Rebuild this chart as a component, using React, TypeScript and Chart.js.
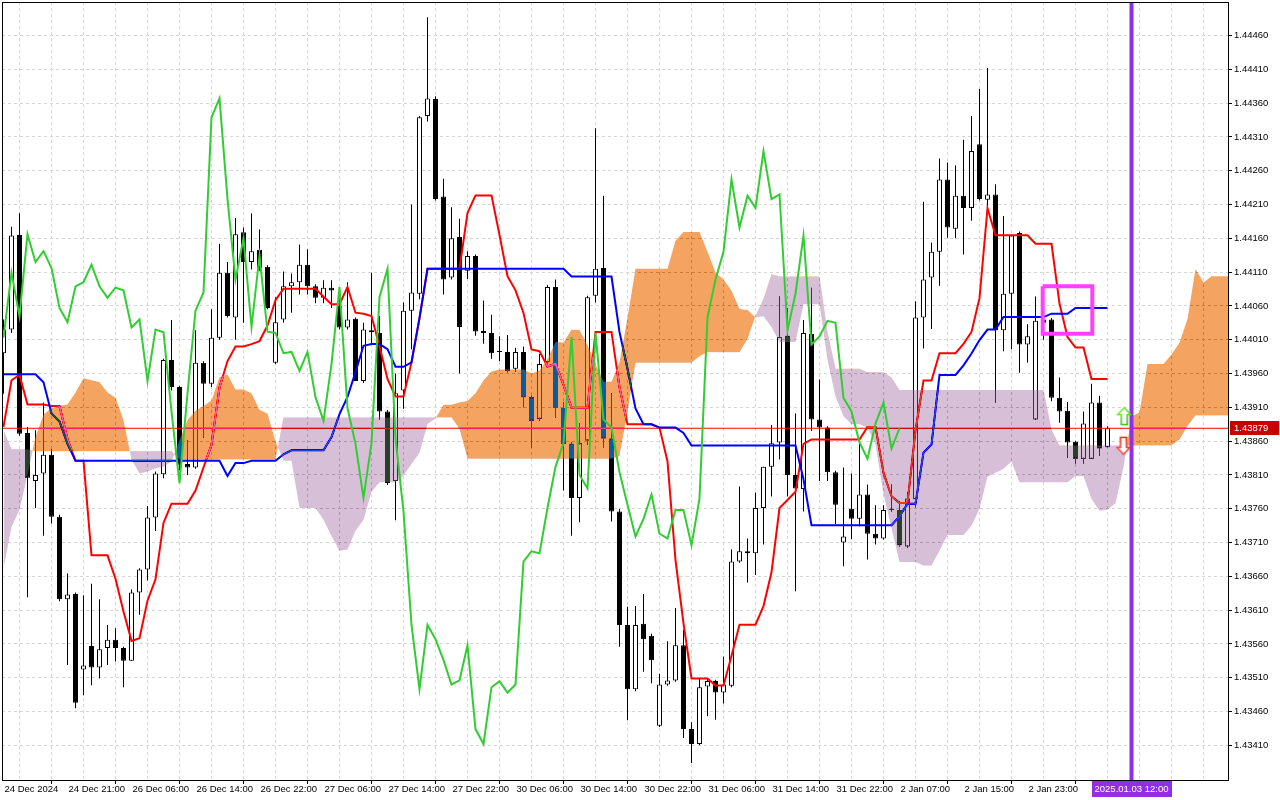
import React, { useEffect, useRef } from "react";
import { Chart, registerables } from "chart.js";

Chart.register(...registerables);

// ---------- time axis ----------
const timeLabels = [
  "24 Dec 2024", "24 Dec 21:00", "26 Dec 06:00", "26 Dec 14:00", "26 Dec 22:00",
  "27 Dec 06:00", "27 Dec 14:00", "27 Dec 22:00", "30 Dec 06:00", "30 Dec 14:00",
  "30 Dec 22:00", "31 Dec 06:00", "31 Dec 14:00", "31 Dec 22:00", "2 Jan 07:00",
  "2 Jan 15:00", "2 Jan 23:00", "3 Jan 07:00",
];
const BARS_PER_LABEL = 8;
const GRID_STEP = 4;
const cursorBar = 141;
const cursorLabel = "2025.01.03 12:00";
const CHIKOU_SHIFT = 26;

// ---------- H1 candles (bar index 0..138) ----------
const opens = [
  1.43990, 1.44025, 1.44165, 1.43872, 1.43801, 1.43812, 1.43840, 1.43748, 1.43626, 1.43634,
  1.43522, 1.43557, 1.43525, 1.43554, 1.43566, 1.43554, 1.43535, 1.43636, 1.43670, 1.43747,
  1.43811, 1.43980, 1.43940, 1.43826, 1.43821, 1.43976, 1.43945, 1.44013, 1.44109, 1.44043,
  1.44169, 1.44125, 1.44143, 1.44118, 1.43976, 1.44040, 1.44089, 1.44095, 1.44121, 1.44089,
  1.44072, 1.44087, 1.44060, 1.44028, 1.44041, 1.43949, 1.44024, 1.44020, 1.43904, 1.43801,
  1.43935, 1.44053, 1.44078, 1.44341, 1.44366, 1.44222, 1.44102, 1.44162, 1.44112, 1.44134,
  1.44023, 1.44020, 1.43993, 1.43992, 1.43967, 1.43992, 1.43925, 1.43893, 1.43977, 1.44088,
  1.43909, 1.43856, 1.43776, 1.43861, 1.44075, 1.44116, 1.43864, 1.43756, 1.43588, 1.43493,
  1.43590, 1.43572, 1.43439, 1.43500, 1.43506, 1.43558, 1.43434, 1.43412, 1.43497, 1.43505,
  1.43488, 1.43498, 1.43682, 1.43697, 1.43694, 1.43761, 1.43822, 1.43858, 1.44016, 1.43810,
  1.43789, 1.44019, 1.43892, 1.43880, 1.43814, 1.43710, 1.43760, 1.43745, 1.43781, 1.43723,
  1.43716, 1.43760, 1.43758, 1.43704, 1.43774, 1.44043, 1.44102, 1.44140, 1.44247, 1.44174,
  1.44223, 1.44205, 1.44299, 1.44217, 1.44225, 1.44024, 1.44078, 1.44168, 1.44003, 1.43892,
  1.44040, 1.44040, 1.43924, 1.43905, 1.43859, 1.43834, 1.43834, 1.43917, 1.43851,
];
const highs = [
  1.44040, 1.44177, 1.44197, 1.43881, 1.43876, 1.43917, 1.43848, 1.43751, 1.43664, 1.43636,
  1.43632, 1.43649, 1.43626, 1.43588, 1.43583, 1.43556, 1.43641, 1.43672, 1.43764, 1.43815,
  1.43982, 1.44039, 1.43942, 1.43861, 1.44024, 1.43978, 1.44055, 1.44152, 1.44125, 1.44190,
  1.44176, 1.44197, 1.44173, 1.44120, 1.44073, 1.44111, 1.44108, 1.44151, 1.44144, 1.44092,
  1.44098, 1.44098, 1.44087, 1.44095, 1.44043, 1.44035, 1.44109, 1.44045, 1.43906, 1.43960,
  1.44065, 1.44210, 1.44341, 1.44487, 1.44370, 1.44248, 1.44206, 1.44189, 1.44141, 1.44136,
  1.44068, 1.44047, 1.44015, 1.44017, 1.43998, 1.44000, 1.43927, 1.43989, 1.44091, 1.44099,
  1.43918, 1.43858, 1.43886, 1.44075, 1.44323, 1.44223, 1.43931, 1.43760, 1.43615, 1.43616,
  1.43634, 1.43575, 1.43516, 1.43564, 1.43613, 1.43581, 1.43444, 1.43509, 1.43509, 1.43507,
  1.43541, 1.43700, 1.43793, 1.43716, 1.43784, 1.43822, 1.43884, 1.44074, 1.44057, 1.43901,
  1.44039, 1.44087, 1.43951, 1.43882, 1.43816, 1.43821, 1.43812, 1.43862, 1.43796, 1.43765,
  1.43765, 1.43796, 1.43771, 1.43784, 1.44067, 1.44214, 1.44154, 1.44278, 1.44272, 1.44268,
  1.44306, 1.44341, 1.44381, 1.44412, 1.44240, 1.44193, 1.44164, 1.44170, 1.44033, 1.44074,
  1.44077, 1.44042, 1.43954, 1.43918, 1.43860, 1.43904, 1.43945, 1.43927, 1.43882,
];
const lows = [
  1.43930, 1.44020, 1.43868, 1.43629, 1.43761, 1.43720, 1.43738, 1.43623, 1.43529, 1.43465,
  1.43484, 1.43499, 1.43509, 1.43529, 1.43534, 1.43496, 1.43535, 1.43603, 1.43654, 1.43727,
  1.43805, 1.43935, 1.43817, 1.43810, 1.43819, 1.43865, 1.43940, 1.44010, 1.44043, 1.44010,
  1.44035, 1.44114, 1.44112, 1.44055, 1.43974, 1.44035, 1.44050, 1.44077, 1.44077, 1.44064,
  1.44064, 1.44057, 1.44025, 1.44025, 1.43949, 1.43946, 1.44005, 1.43892, 1.43795, 1.43743,
  1.43908, 1.43996, 1.44070, 1.44333, 1.44216, 1.44077, 1.44099, 1.43960, 1.44100, 1.44016,
  1.44004, 1.43982, 1.43978, 1.43962, 1.43963, 1.43910, 1.43850, 1.43890, 1.43971, 1.43895,
  1.43787, 1.43720, 1.43740, 1.43855, 1.44065, 1.43850, 1.43741, 1.43556, 1.43447, 1.43490,
  1.43519, 1.43502, 1.43437, 1.43498, 1.43504, 1.43421, 1.43384, 1.43410, 1.43453, 1.43448,
  1.43472, 1.43496, 1.43680, 1.43651, 1.43662, 1.43707, 1.43778, 1.43833, 1.43778, 1.43638,
  1.43756, 1.43875, 1.43801, 1.43801, 1.43737, 1.43675, 1.43715, 1.43734, 1.43685, 1.43707,
  1.43714, 1.43756, 1.43704, 1.43702, 1.43762, 1.43997, 1.44026, 1.44090, 1.44161, 1.44160,
  1.44136, 1.44186, 1.44216, 1.44203, 1.43917, 1.43993, 1.43996, 1.43961, 1.43976, 1.43892,
  1.44010, 1.43919, 1.43887, 1.43835, 1.43827, 1.43827, 1.43834, 1.43838, 1.43851,
];
const closes = [
  1.44025, 1.44164, 1.43871, 1.43806, 1.43810, 1.43840, 1.43748, 1.43626, 1.43633, 1.43473,
  1.43528, 1.43525, 1.43552, 1.43566, 1.43554, 1.43535, 1.43636, 1.43670, 1.43747, 1.43812,
  1.43980, 1.43940, 1.43825, 1.43821, 1.43976, 1.43945, 1.44013, 1.44109, 1.44045, 1.44166,
  1.44125, 1.44141, 1.44116, 1.44057, 1.44036, 1.44089, 1.44095, 1.44121, 1.44089, 1.44072,
  1.44087, 1.44083, 1.44028, 1.44040, 1.43949, 1.44025, 1.44021, 1.43904, 1.43798, 1.43931,
  1.44053, 1.44080, 1.44339, 1.44367, 1.44218, 1.44099, 1.44160, 1.44029, 1.44134, 1.44022,
  1.44020, 1.43990, 1.43992, 1.43964, 1.43992, 1.43925, 1.43890, 1.43974, 1.44088, 1.43909,
  1.43856, 1.43776, 1.43857, 1.44073, 1.44115, 1.43864, 1.43756, 1.43588, 1.43493, 1.43588,
  1.43567, 1.43536, 1.43500, 1.43506, 1.43558, 1.43434, 1.43412, 1.43496, 1.43505, 1.43488,
  1.43500, 1.43682, 1.43697, 1.43694, 1.43761, 1.43822, 1.43857, 1.44014, 1.43810, 1.43790,
  1.44020, 1.43892, 1.43880, 1.43814, 1.43766, 1.43719, 1.43745, 1.43781, 1.43723, 1.43716,
  1.43758, 1.43758, 1.43706, 1.43775, 1.44043, 1.44099, 1.44140, 1.44247, 1.44176, 1.44223,
  1.44205, 1.44289, 1.44218, 1.44225, 1.44024, 1.44078, 1.44164, 1.44003, 1.44015, 1.44038,
  1.44035, 1.43924, 1.43904, 1.43858, 1.43834, 1.43886, 1.43917, 1.43849, 1.43879,
];

// ---------- Ichimoku lines ----------
const tenkan = [
  1.43881, 1.43950, 1.43958, 1.43914, 1.43914, 1.43914, 1.43912, 1.43912, 1.43863, 1.43831,
  1.43831, 1.43691, 1.43691, 1.43691, 1.436565, 1.43608, 1.435645, 1.435685, 1.43624, 1.436555,
  1.43739, 1.437675, 1.437675, 1.437675, 1.43787, 1.43821, 1.438545, 1.439395, 1.439785, 1.44000,
  1.44000, 1.440035, 1.44008, 1.44031, 1.440685, 1.440855, 1.440855, 1.440855, 1.440855, 1.440855,
  1.440735, 1.440625, 1.440625, 1.44088, 1.44050, 1.440485, 1.44045, 1.440005, 1.43952, 1.43926,
  1.43926, 1.439765, 1.44042, 1.44115, 1.44115, 1.44115, 1.44115, 1.44115, 1.441975, 1.442235,
  1.442235, 1.442235, 1.44165, 1.44104, 1.44083, 1.440495, 1.439955, 1.43993, 1.439705, 1.439745,
  1.43943, 1.439095, 1.439095, 1.439095, 1.440215, 1.440215, 1.440215, 1.439395, 1.43885, 1.43885,
  1.43885, 1.43885, 1.43880, 1.43830, 1.43684, 1.435905, 1.43509, 1.43509, 1.43509, 1.434985,
  1.434985, 1.43542, 1.435885, 1.435885, 1.435885, 1.43616, 1.43666, 1.43761, 1.43773, 1.43785,
  1.43856, 1.438625, 1.438625, 1.438625, 1.438625, 1.438625, 1.438625, 1.438625, 1.43881, 1.43881,
  1.43813, 1.437785, 1.437685, 1.437685, 1.43876, 1.439495, 1.439495, 1.43990, 1.43990, 1.43990,
  1.44004, 1.440215, 1.440715, 1.442045, 1.441645, 1.441645, 1.441645, 1.441645, 1.441645, 1.44152,
  1.44152, 1.44152, 1.440635, 1.44014, 1.439985, 1.439985, 1.43952, 1.43952, 1.43952,
];
const kijun = [
  1.43959, 1.43959, 1.43959, 1.43959, 1.43959, 1.43947, 1.43901, 1.43889, 1.43856, 1.43831,
  1.43831, 1.43831, 1.43831, 1.43831, 1.43831, 1.43831, 1.43831, 1.43831, 1.43831, 1.43831,
  1.43831, 1.43831, 1.43831, 1.43831, 1.43831, 1.43831, 1.43831, 1.43831, 1.438085, 1.438275,
  1.438275, 1.43831, 1.43831, 1.43831, 1.43831, 1.438405, 1.438465, 1.438465, 1.438465, 1.438465,
  1.438465, 1.43866, 1.43900, 1.439255, 1.43962, 1.44001, 1.440035, 1.440035, 1.43996, 1.43970,
  1.43970, 1.439765, 1.44042, 1.44115, 1.44115, 1.44115, 1.44115, 1.44115, 1.44115, 1.44115,
  1.44115, 1.44115, 1.44115, 1.44115, 1.44115, 1.44115, 1.44115, 1.44115, 1.44115, 1.44115,
  1.44115, 1.441035, 1.441035, 1.441035, 1.441035, 1.441035, 1.441035, 1.440215, 1.43967, 1.439085,
  1.43885, 1.43885, 1.43880, 1.43880, 1.43880, 1.43872, 1.438535, 1.438535, 1.438535, 1.438535,
  1.438535, 1.438535, 1.438535, 1.438535, 1.438535, 1.438535, 1.438535, 1.438535, 1.438535, 1.438535,
  1.438035, 1.437355, 1.437355, 1.437355, 1.437355, 1.437355, 1.437355, 1.437355, 1.437355, 1.437355,
  1.437355, 1.437355, 1.437485, 1.437675, 1.437675, 1.43843, 1.43855, 1.43958, 1.43958, 1.43958,
  1.43972, 1.439895, 1.440095, 1.44025, 1.44025, 1.440435, 1.440435, 1.440435, 1.440435, 1.440435,
  1.440435, 1.440485, 1.440485, 1.440485, 1.44057, 1.44057, 1.44057, 1.44057, 1.44057,
];
// Senkou spans (bar index 0..164, 26 bars projected ahead)
const spanA = [
  1.43672, 1.43733, 1.43759, 1.43810, 1.43866, 1.43899, 1.43909, 1.43912, 1.43914, 1.43932,
  1.43953, 1.43950, 1.43947, 1.43932, 1.43924, 1.43891, 1.43833, 1.43812, 1.43815, 1.43820,
  1.43822, 1.43830, 1.43861, 1.43891, 1.43905, 1.43912, 1.43920, 1.439545, 1.439585, 1.439365,
  1.439365, 1.439305, 1.439065, 1.439005, 1.438595, 1.43831, 1.43831, 1.43761, 1.43761, 1.43761,
  1.437438, 1.437195, 1.436978, 1.436998, 1.437275, 1.437433, 1.43785, 1.437993, 1.437993, 1.437993,
  1.43809, 1.43826, 1.438428, 1.438853, 1.438935, 1.439138, 1.439138, 1.439173, 1.439195, 1.43931,
  1.439498, 1.43963, 1.43966, 1.43966, 1.43966, 1.43966, 1.43960, 1.439643, 1.439813, 1.440068,
  1.44006, 1.440248, 1.440243, 1.44002, 1.43974, 1.43948, 1.43948, 1.439765, 1.44042, 1.44115,
  1.44115, 1.44115, 1.44115, 1.44115, 1.441563, 1.441693, 1.441693, 1.441693, 1.44140, 1.441095,
  1.44099, 1.440823, 1.440553, 1.44054, 1.440428, 1.440448, 1.44029, 1.440065, 1.440065, 1.440065,
  1.440625, 1.440625, 1.440625, 1.439805, 1.43926, 1.438968, 1.43885, 1.43885, 1.43880, 1.43855,
  1.43782, 1.437313, 1.436813, 1.436813, 1.436813, 1.43676, 1.43676, 1.436978, 1.43721, 1.43721,
  1.43721, 1.437348, 1.437598, 1.438073, 1.438133, 1.438193, 1.438298, 1.43799, 1.43799, 1.43799,
  1.43799, 1.43799, 1.43799, 1.43799, 1.438083, 1.438083, 1.437743, 1.43757, 1.437585, 1.43768,
  1.438218, 1.438963, 1.439023, 1.43974, 1.43974, 1.43974, 1.43988, 1.440055, 1.440405, 1.441148,
  1.440948, 1.44104, 1.44104, 1.44104, 1.44104, 1.440978, 1.440978, 1.441003, 1.44056, 1.440313,
  1.440278, 1.440278, 1.440045, 1.440045, 1.440045,
];
const spanB = [
  1.43876, 1.43848, 1.43848, 1.43848, 1.43845, 1.43845, 1.43845, 1.43845, 1.43845, 1.43845,
  1.43845, 1.43845, 1.43845, 1.43845, 1.43845, 1.43845, 1.43845, 1.43845, 1.43845, 1.43845,
  1.43845, 1.43845, 1.43833, 1.43833, 1.43833, 1.43833, 1.43833, 1.43833, 1.43833, 1.43833,
  1.43833, 1.43833, 1.43833, 1.43833, 1.43833, 1.43895, 1.43895, 1.43895, 1.43895, 1.43895,
  1.43895, 1.43895, 1.43895, 1.43895, 1.43895, 1.43895, 1.43895, 1.43895, 1.43895, 1.43895,
  1.43895, 1.43895, 1.43895, 1.43895, 1.43895, 1.43895, 1.43895, 1.43878, 1.43834, 1.43834,
  1.43834, 1.43834, 1.43834, 1.43834, 1.43834, 1.43834, 1.43834, 1.43834, 1.43834, 1.43834,
  1.43834, 1.43834, 1.43834, 1.43834, 1.43834, 1.43834, 1.43834, 1.438375, 1.43903, 1.43976,
  1.43976, 1.43976, 1.43976, 1.43976, 1.43976, 1.43976, 1.43976, 1.439855, 1.439915, 1.439915,
  1.439915, 1.439915, 1.439915, 1.44011, 1.44045, 1.440705, 1.44107, 1.441035, 1.441035, 1.441035,
  1.441035, 1.441035, 1.441035, 1.440215, 1.43967, 1.43967, 1.43967, 1.43967, 1.43962, 1.43962,
  1.43962, 1.43954, 1.439355, 1.439355, 1.439355, 1.439355, 1.439355, 1.439355, 1.439355, 1.439355,
  1.439355, 1.439355, 1.439355, 1.439355, 1.439355, 1.439355, 1.439355, 1.439355, 1.439355, 1.439355,
  1.439355, 1.43877, 1.438535, 1.438535, 1.438535, 1.438535, 1.438535, 1.438535, 1.438535, 1.438535,
  1.438535, 1.438535, 1.438535, 1.438535, 1.438535, 1.438535, 1.438535, 1.438625, 1.438825, 1.43898,
  1.43898, 1.43898, 1.43898, 1.43898, 1.43898, 1.43898, 1.43898, 1.43898, 1.43898, 1.43898,
  1.43898, 1.43898, 1.43898, 1.43898, 1.43911,
];

// ---------- price axis ----------
const yTickValues = [
  1.43410, 1.43460, 1.43510, 1.43560, 1.43610, 1.43660, 1.43710, 1.43760, 1.43810, 1.43860, 1.43910,
  1.43960, 1.44010, 1.44060, 1.44110, 1.44160, 1.44210, 1.44260, 1.44310, 1.44360, 1.44410, 1.44460,
];

// ---------- chart objects ----------
const signalUp = { bar: 140.1, price: 1.43897 };
const signalDown = { bar: 140.0, price: 1.43853 };
const markBox = { bar0: 129.9, bar1: 136.1, priceLow: 1.44019, priceHigh: 1.44089 };

// view window
const X_MIN = -0.1875;
const X_MAX = 153.0625;
const Y_MIN = 1.433587;
const Y_MAX = 1.445096;

const FONT = '"Liberation Sans", Arial, sans-serif';
const FONT_SIZE = 9.5;
const GRID_COLOR = "#d6d6d6";
const ORANGE_INV = "#0B5B9F"; // SandyBrown drawn with 'difference'
const THISTLE_INV = "#274027"; // Thistle drawn with 'difference'

const IDX_KIJUN = 5;
const IDX_SPANA = 6;

function makeArrow(up: boolean): HTMLCanvasElement {
  const c = document.createElement("canvas");
  c.width = 16;
  c.height = 20;
  const g = c.getContext("2d")!;
  g.save();
  if (!up) {
    g.translate(0, 20);
    g.scale(1, -1);
  }
  g.beginPath();
  g.moveTo(8, 1.5);
  g.lineTo(14.5, 8.5);
  g.lineTo(11, 8.5);
  g.lineTo(11, 18.5);
  g.lineTo(5, 18.5);
  g.lineTo(5, 8.5);
  g.lineTo(1.5, 8.5);
  g.closePath();
  g.fillStyle = "#ffffff";
  g.fill();
  const grad = g.createLinearGradient(0, 0, 16, 20);
  if (up) {
    grad.addColorStop(0, "#99ff33");
    grad.addColorStop(1, "#1faa1f");
  } else {
    grad.addColorStop(0, "#ff6a6a");
    grad.addColorStop(1, "#ff0000");
  }
  g.lineWidth = 1.6;
  g.strokeStyle = grad;
  g.stroke();
  g.restore();
  return c;
}

export default function App() {
  const ref = useRef<HTMLCanvasElement>(null);

  useEffect(() => {
    document.body.style.margin = "0";
    const canvas = ref.current!;
    const last = closes[closes.length - 1];

    const bgPlugin = {
      id: "bgWhite",
      beforeDraw(chart: any) {
        const ctx = chart.ctx;
        ctx.save();
        ctx.fillStyle = "#ffffff";
        ctx.fillRect(0, 0, chart.width, chart.height);
        ctx.restore();
      },
    };

    const blendPlugin = {
      id: "cloudBlend",
      afterDatasetDraw(chart: any, args: any) {
        if (args.index === IDX_KIJUN) chart.ctx.globalCompositeOperation = "difference";
        else if (args.index === IDX_SPANA) chart.ctx.globalCompositeOperation = "source-over";
      },
    };

    const overlayPlugin = {
      id: "overlay",
      afterDraw(chart: any) {
        const ctx = chart.ctx;
        const a = chart.chartArea;
        const xs = chart.scales.x;
        const ys = chart.scales.y;
        ctx.save();
        ctx.globalCompositeOperation = "source-over";
        // frame
        ctx.strokeStyle = "#000";
        ctx.lineWidth = 1;
        ctx.strokeRect(a.left + 0.5, a.top + 0.5, a.right - a.left, a.bottom - a.top);
        ctx.font = `${FONT_SIZE}px ${FONT}`;
        // current price label
        const py = Math.round(ys.getPixelForValue(last));
        ctx.fillStyle = "#c80000";
        ctx.fillRect(a.right + 2, py - 7, chart.width - a.right - 3, 14);
        ctx.fillStyle = "#fff";
        ctx.textBaseline = "middle";
        ctx.textAlign = "left";
        ctx.fillText(last.toFixed(5), a.right + 6, py + 0.5);
        // time cursor label
        const cx = xs.getPixelForValue(cursorBar);
        const w = Math.round(ctx.measureText(cursorLabel).width + 6);
        ctx.fillStyle = "#8f2fe6";
        ctx.fillRect(Math.round(cx - w / 2), a.bottom + 1, w, 16);
        ctx.fillStyle = "#fff";
        ctx.textAlign = "center";
        ctx.fillText(cursorLabel, cx, a.bottom + 9.5);
        ctx.restore();
      },
    };

    const upImg = makeArrow(true);
    const downImg = makeArrow(false);

    const chart = new Chart(canvas, {
      type: "line",
      data: {
        datasets: [
          // 0 span B (fill target, invisible)
          {
            label: "Senkou B",
            data: spanB.map((v, i) => ({ x: i, y: v })),
            borderColor: "rgba(0,0,0,0)",
            borderWidth: 0,
            pointRadius: 0,
            fill: false,
            order: 100,
          },
          // 1 wicks
          {
            type: "bar",
            label: "wick",
            data: lows.map((l, i) => ({ x: i, y: [l, highs[i]] })),
            backgroundColor: "#000",
            borderWidth: 0,
            barThickness: 1,
            grouped: false,
            inflateAmount: 0,
            order: 90,
          } as any,
          // 2 bodies
          {
            type: "bar",
            label: "body",
            data: opens.map((o, i) => ({ x: i, y: [o, closes[i]] })),
            backgroundColor: opens.map((o, i) => (closes[i] >= o ? "#ffffff" : "#000000")),
            borderColor: "#000",
            borderWidth: 1,
            borderSkipped: false,
            barThickness: 5,
            minBarLength: 1,
            grouped: false,
            inflateAmount: 0,
            order: 80,
          } as any,
          // 3 bid line
          {
            label: "bid",
            data: [
              { x: X_MIN, y: last },
              { x: X_MAX, y: last },
            ],
            borderColor: "#ff0000",
            borderWidth: 1,
            pointRadius: 0,
            fill: false,
            order: 70,
          },
          // 4 tenkan
          {
            label: "Tenkan-sen",
            data: tenkan.map((v, i) => ({ x: i, y: v })),
            borderColor: "#ff0000",
            borderWidth: 2,
            pointRadius: 0,
            fill: false,
            order: 60,
          },
          // 5 kijun
          {
            label: "Kijun-sen",
            data: kijun.map((v, i) => ({ x: i, y: v })),
            borderColor: "#0000ff",
            borderWidth: 2,
            pointRadius: 0,
            fill: false,
            order: 50,
          },
          // 6 span A with cloud fill
          {
            label: "Senkou A",
            data: spanA.map((v, i) => ({ x: i, y: v })),
            borderColor: "rgba(0,0,0,0)",
            borderWidth: 0,
            pointRadius: 0,
            fill: { target: 0, above: ORANGE_INV, below: THISTLE_INV },
            order: 40,
          } as any,
          // 7 chikou
          {
            label: "Chikou Span",
            data: closes.slice(CHIKOU_SHIFT).map((v, i) => ({ x: i, y: v })),
            borderColor: "#32cd32",
            borderWidth: 2,
            pointRadius: 0,
            fill: false,
            order: 30,
          },
          // 8 marked rectangle
          {
            label: "box",
            data: [
              { x: markBox.bar0, y: markBox.priceHigh },
              { x: markBox.bar1, y: markBox.priceHigh },
              { x: markBox.bar1, y: markBox.priceLow },
              { x: markBox.bar0, y: markBox.priceLow },
              { x: markBox.bar0, y: markBox.priceHigh },
            ],
            borderColor: "#ff40ff",
            borderWidth: 4,
            borderJoinStyle: "miter",
            pointRadius: 0,
            fill: false,
            order: 20,
          } as any,
          // 9 time cursor
          {
            label: "cursor",
            data: [
              { x: cursorBar, y: Y_MIN },
              { x: cursorBar, y: Y_MAX },
            ],
            borderColor: "#8f2fe6",
            borderWidth: 4,
            pointRadius: 0,
            fill: false,
            order: 15,
          },
          // 10 up signal
          {
            type: "scatter",
            label: "buy",
            data: [{ x: signalUp.bar, y: signalUp.price }],
            pointStyle: upImg,
            pointRadius: 8,
            order: 10,
          } as any,
          // 11 down signal
          {
            type: "scatter",
            label: "sell",
            data: [{ x: signalDown.bar, y: signalDown.price }],
            pointStyle: downImg,
            pointRadius: 8,
            order: 10,
          } as any,
        ],
      },
      options: {
        animation: false,
        responsive: false,
        devicePixelRatio: 1,
        events: [],
        layout: { autoPadding: false, padding: { left: 2, top: 2, right: 0, bottom: 0 } },
        elements: { line: { tension: 0 }, point: { radius: 0 } },
        plugins: {
          legend: { display: false },
          tooltip: { enabled: false },
          filler: { drawTime: "beforeDatasetDraw" },
        },
        scales: {
          x: {
            type: "linear",
            min: X_MIN,
            max: X_MAX,
            offset: false,
            afterBuildTicks: (s: any) => {
              const t: any[] = [];
              for (let v = 0; v <= X_MAX; v += GRID_STEP) t.push({ value: v });
              s.ticks = t;
            },
            afterFit: (s: any) => {
              s.height = 20;
              s.paddingLeft = 0;
              s.paddingRight = 0;
            },
            ticks: {
              autoSkip: false,
              maxRotation: 0,
              minRotation: 0,
              align: "start",
              labelOffset: 1,
              padding: 0,
              color: "#000",
              font: { family: FONT, size: FONT_SIZE },
              callback: (v: any) => {
                const n = Math.round(Number(v));
                const li = n / BARS_PER_LABEL;
                return n % BARS_PER_LABEL === 0 && li < timeLabels.length ? timeLabels[li] : "";
              },
            },
            grid: {
              color: GRID_COLOR,
              lineWidth: 1,
              drawTicks: true,
              tickLength: 4,
              tickWidth: 1,
              tickColor: (c: any) => {
                const n = c.tick ? Math.round(c.tick.value) : -1;
                return n >= 0 && n % BARS_PER_LABEL === 0 && n / BARS_PER_LABEL < timeLabels.length
                  ? "#000"
                  : "rgba(0,0,0,0)";
              },
            },
            border: { display: true, color: "#000", width: 1, dash: [3, 3] },
          } as any,
          y: {
            type: "linear",
            position: "right",
            min: Y_MIN,
            max: Y_MAX,
            afterBuildTicks: (s: any) => {
              s.ticks = yTickValues.map((v) => ({ value: v }));
            },
            afterFit: (s: any) => {
              s.width = 52;
              s.paddingTop = 0;
              s.paddingBottom = 0;
            },
            ticks: {
              autoSkip: false,
              padding: 2,
              color: "#000",
              font: { family: FONT, size: FONT_SIZE },
              callback: (v: any) => Number(v).toFixed(5),
            },
            grid: { color: GRID_COLOR, lineWidth: 1, tickLength: 4, tickColor: "#000", tickWidth: 1 },
            border: { display: true, color: "#000", width: 1, dash: [3, 3] },
          } as any,
        },
      },
      plugins: [bgPlugin, blendPlugin, overlayPlugin],
    } as any);

    return () => chart.destroy();
  }, []);

  return (
    <div style={{ position: "fixed", left: 0, top: 0, width: 1280, height: 800, background: "#fff" }}>
      <canvas ref={ref} width={1280} height={800} style={{ display: "block", width: 1280, height: 800 }} />
    </div>
  );
}
